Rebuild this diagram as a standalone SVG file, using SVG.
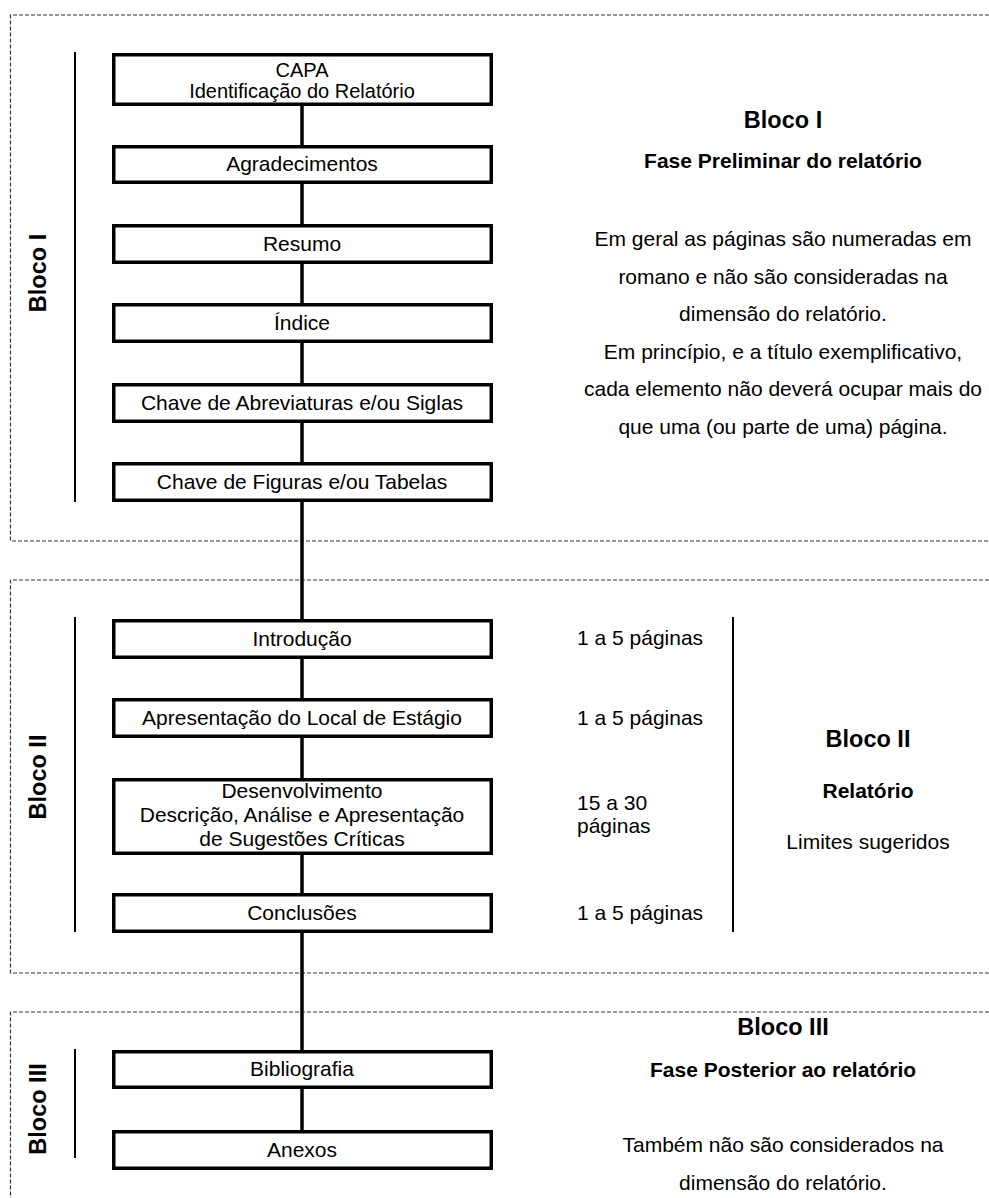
<svg xmlns="http://www.w3.org/2000/svg" width="989" height="1198" viewBox="0 0 989 1198">
<style>
text{font-family:"Liberation Sans",Arial,sans-serif;font-size:21px;fill:#000}
.c{text-anchor:middle}
.b{font-weight:bold}
.h{font-weight:bold;font-size:23.5px}
.t{font-size:20px}
.box{fill:#fff;stroke:#000;stroke-width:3.5}
.frame{fill:none;stroke:#333;stroke-width:1.2;stroke-dasharray:4 2}
.side{stroke:#000;stroke-width:2;fill:none}
.conn{stroke:#000;stroke-width:3.5;fill:none}
</style>
<rect width="989" height="1198" fill="#fff"/>
<g id="frames">
<path class="frame" d="M995 15 H10.5 V541 H995"/>
<path class="frame" d="M995 580 H10.5 V973 H995"/>
<path class="frame" d="M995 1012 H10.5 V1205"/>
</g>
<g id="connectors">
<line class="conn" x1="302" y1="105" x2="302" y2="146"/>
<line class="conn" x1="302" y1="183" x2="302" y2="225"/>
<line class="conn" x1="302" y1="263" x2="302" y2="304"/>
<line class="conn" x1="302" y1="342" x2="302" y2="384"/>
<line class="conn" x1="302" y1="422" x2="302" y2="463"/>
<line class="conn" x1="302" y1="501" x2="302" y2="620"/>
<line class="conn" x1="302" y1="658" x2="302" y2="699"/>
<line class="conn" x1="302" y1="737" x2="302" y2="779"/>
<line class="conn" x1="302" y1="854" x2="302" y2="894"/>
<line class="conn" x1="302" y1="932" x2="302" y2="1051"/>
<line class="conn" x1="302" y1="1088" x2="302" y2="1131"/>
</g>
<g id="sidelines">
<line class="side" x1="75" y1="52" x2="75" y2="502"/>
<line class="side" x1="75" y1="617" x2="75" y2="932"/>
<line class="side" x1="75" y1="1049" x2="75" y2="1158"/>
<line class="side" x1="733" y1="617" x2="733" y2="932"/>
</g>
<g id="labels-left">
<text class="h c" transform="translate(46,273) rotate(-90)">Bloco I</text>
<text class="h c" transform="translate(46,777) rotate(-90)">Bloco II</text>
<text class="h c" transform="translate(46,1109) rotate(-90)">Bloco III</text>
</g>
<g id="n-capa"><rect class="box" x="113.75" y="54.75" width="377.5" height="49.5"/><text class="c t" x="302" y="77">CAPA</text><text class="c t" x="302" y="98">Identificação do Relatório</text></g>
<g id="n-agradecimentos"><rect class="box" x="113.75" y="146.75" width="377.5" height="35.5"/><text class="c" x="302" y="171">Agradecimentos</text></g>
<g id="n-resumo"><rect class="box" x="113.75" y="225.75" width="377.5" height="36.5"/><text class="c" x="302" y="251">Resumo</text></g>
<g id="n-indice"><rect class="box" x="113.75" y="304.75" width="377.5" height="36.5"/><text class="c" x="302" y="330">Índice</text></g>
<g id="n-abrev"><rect class="box" x="113.75" y="384.75" width="377.5" height="36.5"/><text class="c" x="302" y="410">Chave de Abreviaturas e/ou Siglas</text></g>
<g id="n-figuras"><rect class="box" x="113.75" y="463.75" width="377.5" height="36.5"/><text class="c" x="302" y="489">Chave de Figuras e/ou Tabelas</text></g>
<g id="n-introducao"><rect class="box" x="113.75" y="620.75" width="377.5" height="36.5"/><text class="c" x="302" y="646">Introdução</text></g>
<g id="n-apresentacao"><rect class="box" x="113.75" y="699.75" width="377.5" height="36.5"/><text class="c" x="302" y="725">Apresentação do Local de Estágio</text></g>
<g id="n-desenvolvimento"><rect class="box" x="113.75" y="779.75" width="377.5" height="73.5"/><text class="c" x="302" y="798">Desenvolvimento</text><text class="c" x="302" y="822">Descrição, Análise e Apresentação</text><text class="c" x="302" y="846">de Sugestões Críticas</text></g>
<g id="n-conclusoes"><rect class="box" x="113.75" y="894.75" width="377.5" height="36.5"/><text class="c" x="302" y="920">Conclusões</text></g>
<g id="n-bibliografia"><rect class="box" x="113.75" y="1051.75" width="377.5" height="35.5"/><text class="c" x="302" y="1076">Bibliografia</text></g>
<g id="n-anexos"><rect class="box" x="113.75" y="1131.75" width="377.5" height="36.5"/><text class="c" x="302" y="1157">Anexos</text></g>
<g id="info-bloco1">
<text class="h c" x="783" y="128">Bloco I</text>
<text class="b c" x="783" y="168">Fase Preliminar do relatório</text>
<text class="c" x="783" y="246">Em geral as páginas são numeradas em</text>
<text class="c" x="783" y="283.5">romano e não são consideradas na</text>
<text class="c" x="783" y="321">dimensão do relatório.</text>
<text class="c" x="783" y="358.5">Em princípio, e a título exemplificativo,</text>
<text class="c" x="783" y="396">cada elemento não deverá ocupar mais do</text>
<text class="c" x="783" y="433.5">que uma (ou parte de uma) página.</text>
</g>
<g id="info-bloco2">
<text x="577" y="645">1 a 5 páginas</text>
<text x="577" y="725">1 a 5 páginas</text>
<text x="577" y="810">15 a 30</text>
<text x="577" y="833">páginas</text>
<text x="577" y="920">1 a 5 páginas</text>
<text class="h c" x="868" y="747">Bloco II</text>
<text class="b c" x="868" y="798">Relatório</text>
<text class="c" x="868" y="849">Limites sugeridos</text>
</g>
<g id="info-bloco3">
<text class="h c" x="783" y="1035">Bloco III</text>
<text class="b c" x="783" y="1077">Fase Posterior ao relatório</text>
<text class="c" x="783" y="1152">Também não são considerados na</text>
<text class="c" x="783" y="1190">dimensão do relatório.</text>
</g>
</svg>
